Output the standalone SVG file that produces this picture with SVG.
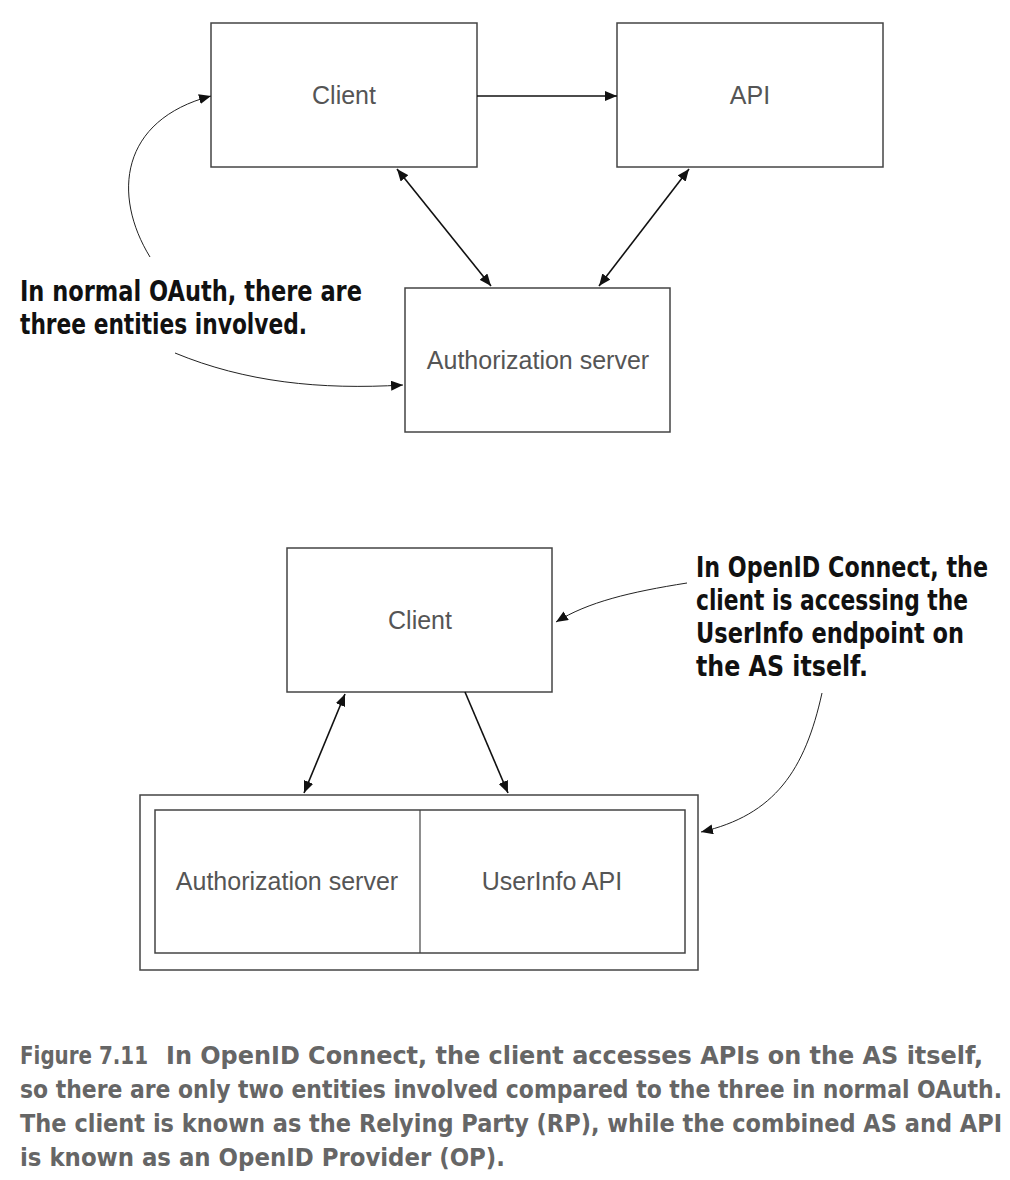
<svg xmlns="http://www.w3.org/2000/svg" width="1010" height="1180" viewBox="0 0 1010 1180">
<defs>
<marker id="ah" viewBox="0 0 12 10" refX="12" refY="5" markerWidth="12" markerHeight="10" markerUnits="userSpaceOnUse" orient="auto-start-reverse">
<path d="M0,0 L12,5 L0,10 Z" fill="#111"/>
</marker>
<style>
.box{fill:#fff;stroke:#444;stroke-width:1.5}
.lbl{font-family:"Liberation Sans",Arial,sans-serif;font-size:25px;fill:#555;text-anchor:middle}
.con{fill:none;stroke:#111;stroke-width:1.6}
.cur{fill:none;stroke:#222;stroke-width:1}
.ann{font-family:"Liberation Sans Narrow","DejaVu Sans Condensed",sans-serif;font-weight:bold;font-size:28px;fill:#111}
.cap{font-family:"Liberation Sans Narrow","DejaVu Sans Condensed",sans-serif;font-weight:bold;font-size:25px;fill:#666}
</style>
</defs>
<rect width="1010" height="1180" fill="#fff"/>

<g id="client-top"><rect class="box" x="211" y="23" width="266" height="144"/><text class="lbl" x="344" y="104">Client</text></g>
<g id="api-top"><rect class="box" x="617" y="23" width="266" height="144"/><text class="lbl" x="750" y="104">API</text></g>
<g id="as-top"><rect class="box" x="405" y="288" width="265" height="144"/><text class="lbl" x="538" y="369">Authorization server</text></g>

<g id="client-bottom"><rect class="box" x="287" y="548" width="265" height="144"/><text class="lbl" x="420" y="629">Client</text></g>
<g id="op">
<rect class="box" x="140" y="795" width="558" height="175"/>
<rect class="box" x="155" y="810" width="530" height="143" stroke-width="1.2"/>
<line x1="420" y1="810" x2="420" y2="953" stroke="#444" stroke-width="1.2"/>
</g>
<g id="as-bottom"><text class="lbl" x="287" y="890">Authorization server</text></g>
<g id="userinfo"><text class="lbl" x="552" y="890">UserInfo API</text></g>

<g id="connectors">
<line class="con" x1="477" y1="96" x2="617" y2="96" marker-end="url(#ah)"/>
<line class="con" x1="397" y1="169" x2="491" y2="286" marker-start="url(#ah)" marker-end="url(#ah)"/>
<line class="con" x1="689" y1="169" x2="599" y2="286" marker-start="url(#ah)" marker-end="url(#ah)"/>
<path class="cur" d="M150,257 C112,195 120,120 211,96" marker-end="url(#ah)"/>
<path class="cur" d="M175,353 C245,382 320,390 403,385" marker-end="url(#ah)"/>
<line class="con" x1="345" y1="694" x2="304" y2="793" marker-start="url(#ah)" marker-end="url(#ah)"/>
<line class="con" x1="465" y1="692" x2="508" y2="793" marker-end="url(#ah)"/>
<path class="cur" d="M687,583 C630,592 588,602 556,622" marker-end="url(#ah)"/>
<path class="cur" d="M822,693 C805,770 775,815 701,832" marker-end="url(#ah)"/>
</g>

<g id="note-oauth">
<text class="ann" x="20" y="301" textLength="342" lengthAdjust="spacingAndGlyphs">In normal OAuth, there are</text>
<text class="ann" x="20" y="334" textLength="287" lengthAdjust="spacingAndGlyphs">three entities involved.</text>
</g>
<g id="note-oidc">
<text class="ann" x="696" y="577" textLength="292" lengthAdjust="spacingAndGlyphs">In OpenID Connect, the</text>
<text class="ann" x="696" y="610" textLength="272" lengthAdjust="spacingAndGlyphs">client is accessing the</text>
<text class="ann" x="696" y="643" textLength="268" lengthAdjust="spacingAndGlyphs">UserInfo endpoint on</text>
<text class="ann" x="696" y="676" textLength="172" lengthAdjust="spacingAndGlyphs">the AS itself.</text>
</g>

<g id="caption">
<text class="cap" x="20" y="1064" textLength="128" lengthAdjust="spacingAndGlyphs">Figure 7.11</text>
<text class="cap" x="166" y="1064" textLength="817" lengthAdjust="spacingAndGlyphs">In OpenID Connect, the client accesses APIs on the AS itself,</text>
<text class="cap" x="20" y="1098" textLength="982" lengthAdjust="spacingAndGlyphs">so there are only two entities involved compared to the three in normal OAuth.</text>
<text class="cap" x="20" y="1132" textLength="982" lengthAdjust="spacingAndGlyphs">The client is known as the Relying Party (RP), while the combined AS and API</text>
<text class="cap" x="20" y="1166" textLength="485" lengthAdjust="spacingAndGlyphs">is known as an OpenID Provider (OP).</text>
</g>
</svg>
